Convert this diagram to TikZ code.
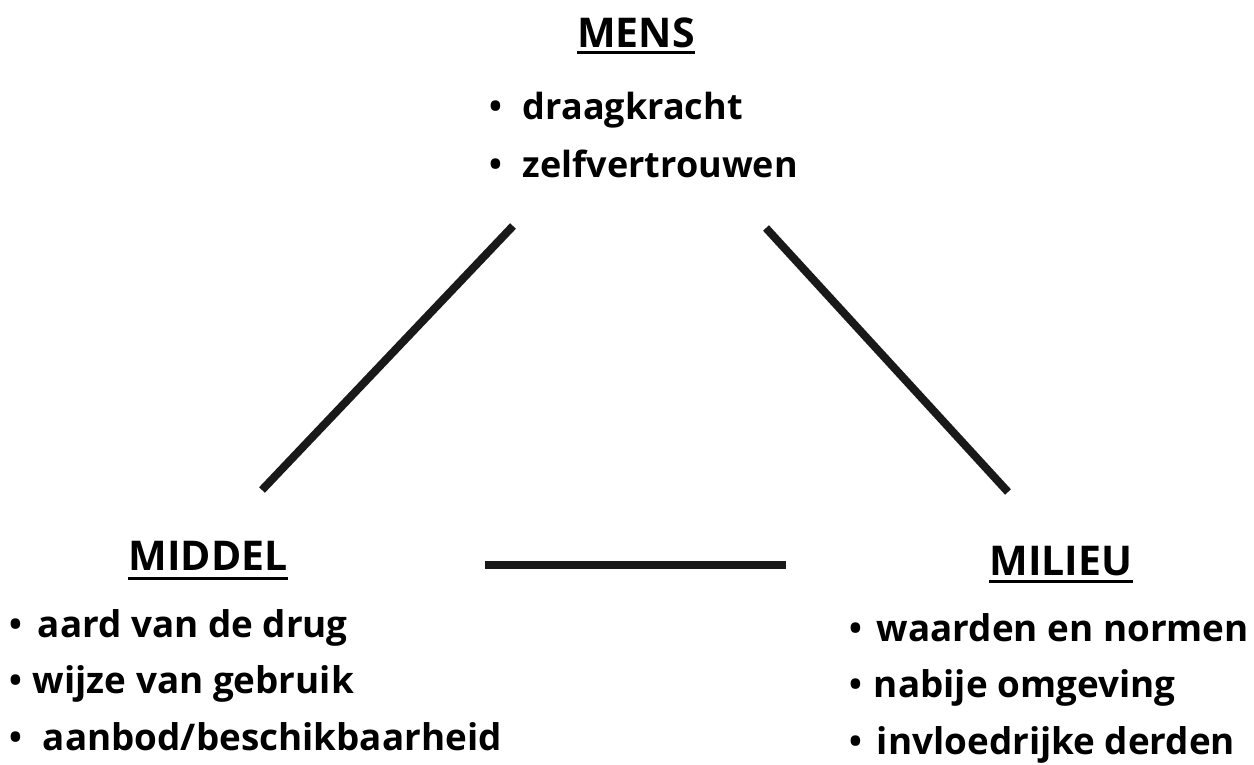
\documentclass[tikz,border=0pt]{standalone}
\usepackage{fontspec}
\setmainfont{Open Sans}
\newcommand\bul[1]{\raisebox{1pt}{\fontsize{34}{34}\selectfont •}\hspace{#1}}
\begin{document}
\begin{tikzpicture}[x=1pt,y=-1pt,
  txt/.style={font=\bfseries\fontsize{36}{40}\selectfont, inner sep=0, anchor=base west},
  txtb/.style={font=\bfseries\fontsize{36.8}{40}\selectfont, inner sep=0, anchor=base west},
  ttl/.style={font=\bfseries\fontsize{41}{44}\selectfont, inner sep=0, anchor=base},
  ul/.style={line width=3pt},
  conn/.style={line width=8pt, black!90}]
\useasboundingbox (0,0) rectangle (1254,765);
% titles
\node[ttl] (mens) at (636,48) {MENS};
\node[ttl] (middel) at (208,570) {MIDDEL};
\node[ttl] (milieu) at (1061,575) {MILIEU};
\draw[ul] ([yshift=-5pt]mens.base west) -- ([yshift=-5pt]mens.base east);
\draw[ul] ([yshift=-8pt]middel.base west) -- ([yshift=-8pt]middel.base east);
\draw[ul] ([yshift=-6pt]milieu.base west) -- ([yshift=-6pt]milieu.base east);
% lists
\node[txt] (m1) at (489,120) {\bul{21pt}draagkracht};
\node[txt] (m2) at (489,178) {\bul{21pt}zelfvertrouwen};
\node[txtb] (a1) at (9,637) {\bul{16pt}aard van de drug};
\node[txtb] (a2) at (9,693) {\bul{11pt}wijze van gebruik};
\node[txtb] (a3) at (9,750) {\bul{21pt}aanbod/beschikbaarheid};
\node[txtb] (b1) at (849,641) {\bul{15pt}waarden en normen};
\node[txtb] (b2) at (849,697) {\bul{12pt}nabije omgeving};
\node[txtb] (b3) at (849,754) {\bul{15pt}invloedrijke derden};
% connectors
\coordinate (l1) at (513,226);
\coordinate (l2) at (262,490);
\coordinate (r1) at (766,228);
\coordinate (r2) at (1008,492);
\coordinate (h1) at (485,565);
\coordinate (h2) at (786,565);
\draw[conn] (l1) -- (l2);
\draw[conn] (r1) -- (r2);
\draw[conn] (h1) -- (h2);
\end{tikzpicture}
\end{document}
